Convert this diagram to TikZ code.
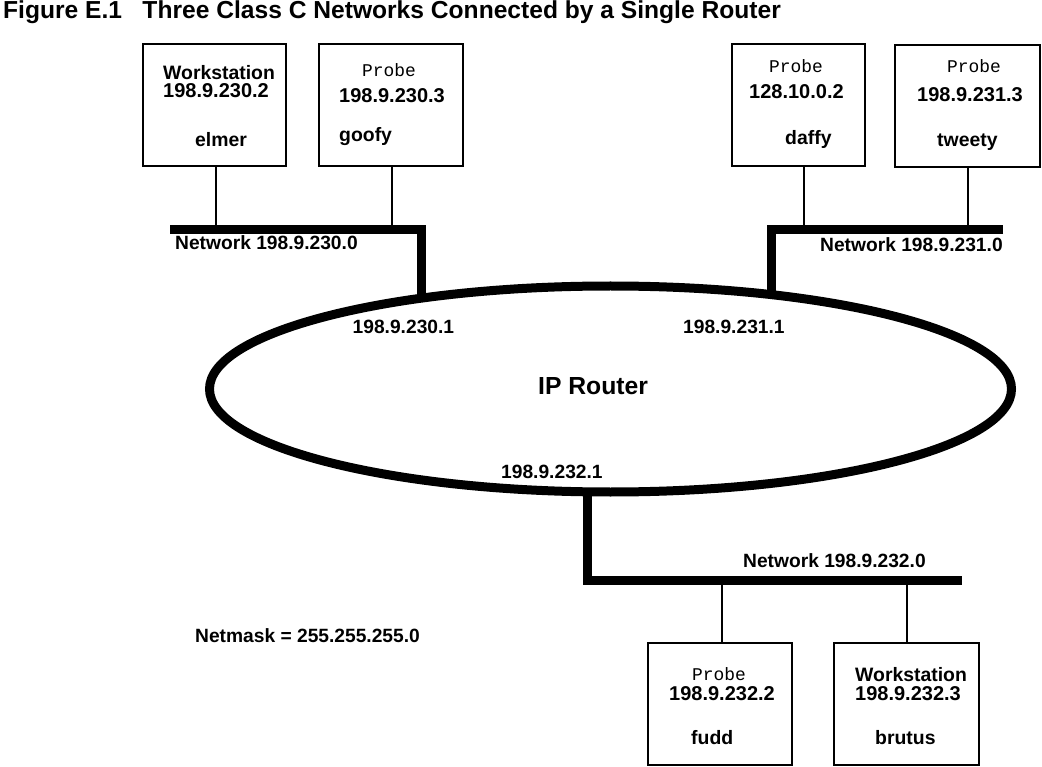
\documentclass[tikz,border=0pt]{standalone}
\usepackage{fontspec}
\setmainfont{Liberation Sans}
\setmonofont{Liberation Mono}
\usetikzlibrary{shapes.geometric, backgrounds}

\begin{document}
\begin{tikzpicture}[
  x=1pt, y=-1pt,
  host/.style={rectangle, draw, line width=2pt, minimum width=#1,
              minimum height=122pt, inner sep=0pt},
  txt/.style={anchor=base west, inner sep=0pt, font=\fontsize{19.4}{22}\selectfont\bfseries},
  addr/.style={anchor=base west, inner sep=0pt, font=\fontsize{20}{22}\selectfont\bfseries},
  kind/.style={anchor=base west, inner sep=0pt, font=\fontsize{17.9}{20}\selectfont\ttfamily},
  netlabel/.style={anchor=base west, inner sep=0pt, font=\fontsize{19.2}{21}\selectfont\bfseries},
  title/.style={anchor=base west, inner sep=0pt, font=\fontsize{24.6}{28}\selectfont\bfseries},
  bus/.style={line width=9pt, line join=miter},
  drop/.style={line width=1.5pt}
]
\useasboundingbox (0,0) rectangle (1042,767);

\node[title] (title) at (3,19) {Figure E.1\hspace{0.55em} Three Class C Networks Connected by a Single Router};

\node[ellipse, draw, line width=9pt, fill=white, minimum width=802pt, minimum height=206pt,
      inner sep=0pt] (router) at (610.5,389) {};
\node[anchor=base west, inner sep=0pt, font=\fontsize{24.7}{28}\selectfont\bfseries] (routername) at (538,395) {IP Router};
\node[netlabel] (if230) at (352.5,334) {198.9.230.1};
\node[netlabel] (if231) at (683,334) {198.9.231.1};
\node[netlabel] (if232) at (501,478) {198.9.232.1};

\node[host=143pt] (elmer) at (214.5,105.5) {};
\node[host=144pt] (goofy) at (391,105.5) {};
\node[host=133pt] (daffy) at (798.5,105) {};
\node[host=145pt] (tweety) at (967.5,106) {};
\node[host=144pt] (fudd) at (720,704) {};
\node[host=145pt] (brutus) at (906.5,704) {};

\node[txt] (elmer-kind) at (163,80) {Workstation};
\node[addr] (elmer-ip) at (163,98) {198.9.230.2};
\node[txt] (elmer-name) at (195,146.7) {elmer};
\node[kind] (goofy-kind) at (362,76.7) {Probe};
\node[addr] (goofy-ip) at (339,103) {198.9.230.3};
\node[txt] (goofy-name) at (339,141.7) {goofy};
\node[kind] (daffy-kind) at (769,73) {Probe};
\node[addr] (daffy-ip) at (749,99) {128.10.0.2};
\node[txt] (daffy-name) at (785,145) {daffy};
\node[kind] (tweety-kind) at (947,73) {Probe};
\node[addr] (tweety-ip) at (917,101.7) {198.9.231.3};
\node[txt] (tweety-name) at (937,146.7) {tweety};
\node[kind] (fudd-kind) at (692,680) {Probe};
\node[addr] (fudd-ip) at (669,700) {198.9.232.2};
\node[txt] (fudd-name) at (691,744) {fudd};
\node[txt] (brutus-kind) at (855,681.7) {Workstation};
\node[addr] (brutus-ip) at (855,700) {198.9.232.3};
\node[txt] (brutus-name) at (875,744) {brutus};

\node[netlabel] (net230) at (175,250) {Network 198.9.230.0};
\node[netlabel] (net231) at (820,251.7) {Network 198.9.231.0};
\node[netlabel] (net232) at (743,567) {Network 198.9.232.0};
\node[netlabel] (netmask) at (195,642) {Netmask = 255.255.255.0};

\coordinate (n230w) at (170,229.5);
\coordinate (n230e) at (421.5,229.5);
\coordinate (n231w) at (771.5,229.5);
\coordinate (n231e) at (1003,229.5);
\coordinate (n232w) at (587,580);
\coordinate (n232e) at (962,580);
\coordinate (t-elmer) at (216,229.5);
\coordinate (t-goofy) at (392,229.5);
\coordinate (t-daffy) at (804,229.5);
\coordinate (t-tweety) at (968,229.5);
\coordinate (t-fudd) at (722,580);
\coordinate (t-brutus) at (907,580);

\begin{scope}[on background layer]
\draw[bus] (n230w) -- (n230e) -- (n230e |- router.center);
\draw[bus] (n231e) -- (n231w) -- (n231w |- router.center);
\draw[bus] (n232w |- router.center) -- (n232w) -- (n232e);
\end{scope}

\draw[drop] (t-elmer) -- (t-elmer |- elmer.south);
\draw[drop] (t-goofy) -- (t-goofy |- goofy.south);
\draw[drop] (t-daffy) -- (t-daffy |- daffy.south);
\draw[drop] (t-tweety) -- (t-tweety |- tweety.south);
\draw[drop] (t-fudd) -- (t-fudd |- fudd.north);
\draw[drop] (t-brutus) -- (t-brutus |- brutus.north);
\end{tikzpicture}
\end{document}
